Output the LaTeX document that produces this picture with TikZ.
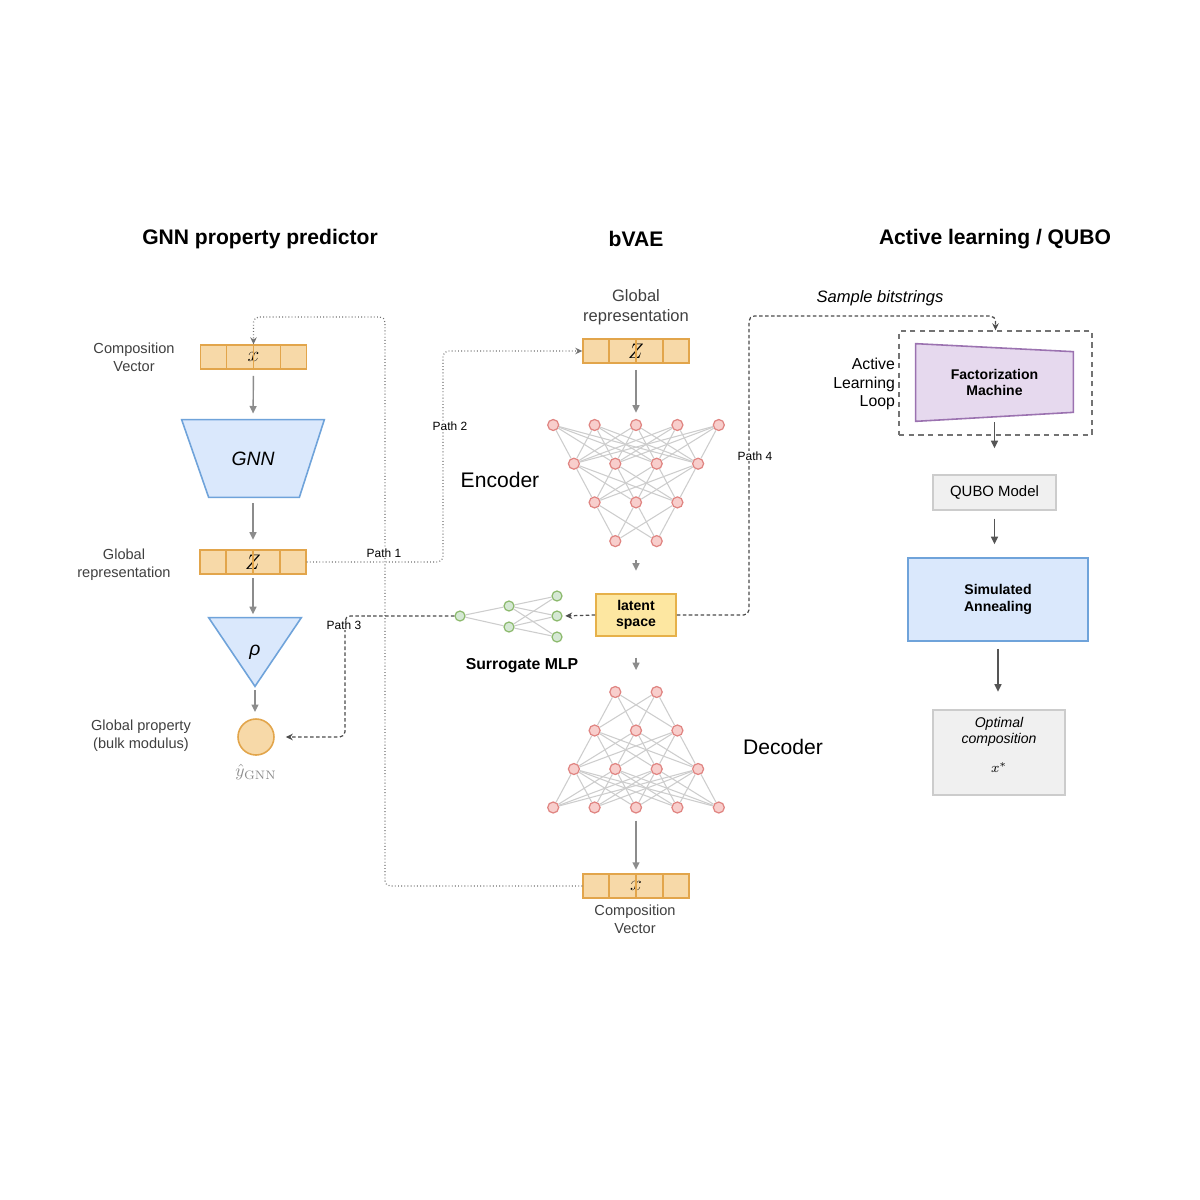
\documentclass[tikz,border=0pt]{standalone}
\usepackage[no-math]{fontspec}
\setmainfont{Liberation Sans}
\setsansfont{Liberation Sans}
\usetikzlibrary{arrows.meta,calc,backgrounds}
\definecolor{vecFill}  {HTML}{F7D9A8}
\definecolor{vecDraw}  {HTML}{E2A54B}
\definecolor{blueFill} {HTML}{DAE8FC}
\definecolor{blueDraw} {HTML}{6FA3DA}
\definecolor{neuFill}  {HTML}{F8CECC}
\definecolor{neuDraw}  {HTML}{E08582}
\definecolor{mlpFill}  {HTML}{D5E8D4}
\definecolor{mlpDraw}  {HTML}{8DBA6E}
\definecolor{latFill}  {HTML}{FDE7A1}
\definecolor{latDraw}  {HTML}{E6B14A}
\definecolor{fmFill}   {HTML}{E6D9EE}
\definecolor{fmDraw}   {HTML}{9B72B0}
\definecolor{boxFill}  {HTML}{F0F0F0}
\definecolor{boxDraw}  {HTML}{CCCCCC}
\definecolor{synGray}  {HTML}{CDCDCD}
\definecolor{arrowGray}{HTML}{8C8C8C}
\definecolor{arrowDark}{HTML}{555555}
\tikzset{
  font=\sffamily,
  arrow/.style={-{Triangle[length=1.5mm,width=1.4mm]},draw=arrowGray,line width=0.8pt,shorten <=3.5pt,shorten >=3.5pt},
  darkarrow/.style={arrow,draw=arrowDark},
  dotpath/.style={draw=black!55,line width=0.7pt,dash pattern=on 0.5pt off 1.3pt,rounded corners=3pt,-{Stealth[length=1.4mm,width=1.3mm]}},
  dashpath/.style={draw=black!70,line width=0.7pt,dash pattern=on 2pt off 1.4pt,rounded corners=3pt,-{Stealth[length=1.4mm,width=1.3mm]}},
  vecbox/.style={rectangle,fill=vecFill,draw=vecDraw,line width=0.8pt,minimum width=2.12cm,minimum height=0.48cm,inner sep=0pt,font=\large},
  cellline/.style={draw=vecDraw,line width=0.8pt},
  neuron/.style={circle,fill=neuFill,draw=neuDraw,line width=0.7pt,minimum size=0.22cm,inner sep=0pt},
  mlpnode/.style={circle,fill=mlpFill,draw=mlpDraw,line width=0.7pt,minimum size=0.2cm,inner sep=0pt},
  synapse/.style={draw=synGray,line width=0.6pt},
  sidetext/.style={font=\fontsize{8.3}{10}\selectfont,text=black!75,align=center},
  pathtag/.style={font=\fontsize{6.8}{8}\selectfont,fill=white,inner sep=0.5pt},
  title/.style={font=\fontsize{12}{14}\selectfont\bfseries},
  bigtext/.style={font=\fontsize{12}{14}\selectfont},
  blueshape/.style={fill=blueFill,draw=blueDraw,line width=0.9pt},
  graybox/.style={rectangle,fill=boxFill,draw=boxDraw,line width=0.9pt,align=center},
}
\newcommand{\cellsplit}[1]{%
  \foreach \f in {0.25,0.5,0.75}
    \draw[cellline] ($(#1.north west)!\f!(#1.north east)$) -- ($(#1.south west)!\f!(#1.south east)$);}

\begin{document}
\begin{tikzpicture}[x=0.02cm,y=-0.02cm]

\begin{scope}[on background layer]
\fill[white] (0,0) rectangle (1200,1200);
\end{scope}
\useasboundingbox (0,0) rectangle (1200,1200);

\node[title] (t-gnn) at (260,239) {GNN property predictor};
\node[title] (t-vae) at (636,239) {bVAE};
\node[title] (t-al)  at (995,239) {Active learning / QUBO};

% GNN property predictor
\node[sidetext] (xgnn-txt) at (134,357) {Composition\\Vector};
\node[vecbox] (xgnn) at (253.5,357) {$x$};
\cellsplit{xgnn}

\node[minimum width=2.84cm,minimum height=1.54cm,font=\fontsize{11}{13}\selectfont\itshape] (gnn) at (253,458.5) {GNN};
\begin{scope}[on background layer]
\draw[blueshape] (gnn.north west) -- (gnn.north east) -- ([xshift=-0.5cm]gnn.south east) -- ([xshift=0.54cm]gnn.south west) -- cycle;
\end{scope}

\node[sidetext] (zgnn-txt) at (124,565) {Global\\representation};
\node[vecbox] (zgnn) at (253,562) {$Z$};
\cellsplit{zgnn}

\node[minimum width=1.84cm,minimum height=1.36cm,font=\fontsize{11}{13}\selectfont\itshape] (rho) at (255,652) {ρ};
\begin{scope}[on background layer]
\draw[blueshape] (rho.north west) -- (rho.north east) -- (rho.south) -- cycle;
\end{scope}

\node[circle,fill=vecFill,draw=vecDraw,line width=0.9pt,minimum size=0.72cm] (prop) at (256,737) {};
\node[sidetext] (prop-txt) at (141,736) {Global property\\(bulk modulus)};
\node[text=black!45] (yhat) at (256,772) {$\hat{y}_{\mathrm{GNN}}$};

\draw[arrow] (xgnn.south) -- (gnn.north);
\draw[arrow,shorten >=5.5pt] (gnn.south) -- (zgnn.north);
\draw[arrow,shorten <=2pt,shorten >=2pt] (zgnn.south) -- (zgnn.south |- rho.north);
\draw[arrow,shorten <=2pt,shorten >=3.5pt] (rho.south) -- (rho.south |- prop.north);

% bVAE
\node[sidetext,font=\fontsize{9.4}{11.5}\selectfont] (zvae-txt) at (636,307) {Global\\representation};
\node[vecbox] (zvae) at (636,351) {$Z$};
\cellsplit{zvae}

\foreach \n [count=\l] in {5,4,3,2}
  \foreach \i in {1,...,\n}
    \node[neuron] (enc-\l-\i) at ({636+(\i-(\n+1)/2)*41.4},{425+(\l-1)*38.7}) {};
\foreach \a/\na/\nb in {1/5/4,2/4/3,3/3/2} {
  \pgfmathtruncatemacro\b{\a+1}
  \foreach \i in {1,...,\na}
    \foreach \j in {1,...,\nb}
      \draw[synapse] (enc-\a-\i) -- (enc-\b-\j);
}
\node[bigtext] (enc-txt) at (500,480) {Encoder};

\node[rectangle,fill=latFill,draw=latDraw,line width=0.9pt,minimum width=1.6cm,minimum height=0.76cm,
  align=center,font=\fontsize{8}{9.5}\selectfont\bfseries] (latent) at (636,615) {latent\\space};

\node[mlpnode] (mlp-1-1) at (460,616) {};
\node[mlpnode] (mlp-2-1) at (509,606) {};
\node[mlpnode] (mlp-2-2) at (509,627) {};
\node[mlpnode] (mlp-3-1) at (557,596) {};
\node[mlpnode] (mlp-3-2) at (557,616) {};
\node[mlpnode] (mlp-3-3) at (557,637) {};
\foreach \j in {1,2}
  \draw[synapse] (mlp-1-1) -- (mlp-2-\j);
\foreach \i in {1,2}
  \foreach \j in {1,2,3}
    \draw[synapse] (mlp-2-\i) -- (mlp-3-\j);
\node[font=\fontsize{9}{11}\selectfont\bfseries] (mlp-txt) at (522,666) {Surrogate MLP};

\foreach \n [count=\l] in {2,3,4,5}
  \foreach \i in {1,...,\n}
    \node[neuron] (dec-\l-\i) at ({636+(\i-(\n+1)/2)*41.4},{692+(\l-1)*38.5}) {};
\foreach \a/\na/\nb in {1/2/3,2/3/4,3/4/5} {
  \pgfmathtruncatemacro\b{\a+1}
  \foreach \i in {1,...,\na}
    \foreach \j in {1,...,\nb}
      \draw[synapse] (dec-\a-\i) -- (dec-\b-\j);
}
\node[bigtext] (dec-txt) at (783,747) {Decoder};

\node[vecbox] (xvae) at (636,886) {$x$};
\cellsplit{xvae}
\node[sidetext] (xvae-txt) at (635,919) {Composition\\Vector};

\draw[arrow] (zvae.south) -- (enc-1-3.north);
\draw[arrow,shorten <=7.5pt,shorten >=13pt] (latent.north |- enc-4-1.south) -- (latent.north);
\draw[arrow,shorten <=12pt,shorten >=9pt] (latent.south) -- (latent.south |- dec-1-1.north);
\draw[arrow,shorten <=4pt,shorten >=2pt] (dec-4-3.south) -- (xvae.north);

% Active learning / QUBO
\node[rectangle,draw=black!55,line width=0.8pt,dash pattern=on 3pt off 2.5pt,
  minimum width=3.86cm,minimum height=2.08cm] (loop) at (995.5,383) {};
\node[font=\fontsize{9}{10.4}\selectfont,align=right,anchor=east,inner sep=1pt] (loop-txt) at (897,384) {Active\\Learning\\Loop};
\node[minimum width=3.14cm,minimum height=1.54cm,align=center,font=\fontsize{8}{9.5}\selectfont\bfseries] (fm) at (994.5,382.5) {Factorization\\Machine};
\begin{scope}[on background layer]
\draw[fill=fmFill,draw=fmDraw,line width=0.9pt] (fm.north west) -- ([yshift=-0.16cm]fm.north east) -- ([yshift=0.18cm]fm.south east) -- (fm.south west) -- cycle;
\end{scope}

\node[graybox,minimum width=2.46cm,minimum height=0.7cm,font=\fontsize{8.5}{10}\selectfont] (qubo) at (994.5,492.5) {QUBO Model};
\node[rectangle,fill=blueFill,draw=blueDraw,line width=0.9pt,minimum width=3.6cm,minimum height=1.66cm,
  align=center,font=\fontsize{8}{9.5}\selectfont\bfseries] (sa) at (998,599.5) {Simulated\\Annealing};
\node[graybox,minimum width=2.64cm,minimum height=1.7cm] (opt) at (999,752.5) {};
\node[align=center,font=\fontsize{8}{9.5}\selectfont\itshape] (opt-txt) at (999,745) {Optimal\\composition\\[7pt]$x^*$};

\draw[darkarrow,shorten <=0.5pt,shorten >=14.8pt] (fm.south) -- (fm.south |- qubo.north);
\draw[darkarrow,shorten <=4.5pt,shorten >=7.4pt] (qubo.south) -- (qubo.south |- sa.north);
\draw[darkarrow,shorten <=4pt,shorten >=10pt] (sa.south) -- (sa.south |- opt.north);

% paths
\coordinate (p1) at (385,317);
\coordinate (p2) at (443,351);
\coordinate (p3) at (345,737);
\coordinate (p4) at (749,316);
\draw[dotpath] (xvae.west) -| (p1) -| (xgnn.north);
\draw[dotpath] (zgnn.east) -| (p2) -- (zvae.west);
\draw[dashpath,shorten >=2.2mm] (mlp-1-1.west) -| (p3) -- (prop.east);
\draw[dashpath] (latent.east) -| (p4) -| (loop.north);
\draw[dashpath,shorten >=1.5pt] (latent.west) -- (mlp-3-2.east);

\node[pathtag] (tag1) at (384,553) {Path 1};
\node[pathtag] (tag2) at (450,426) {Path 2};
\node[pathtag] (tag3) at (344,625) {Path 3};
\node[pathtag] (tag4) at (755,456) {Path 4};
\node[font=\fontsize{9.4}{11}\selectfont\itshape] (sample-txt) at (880,298) {Sample bitstrings};

\end{tikzpicture}
\end{document}
